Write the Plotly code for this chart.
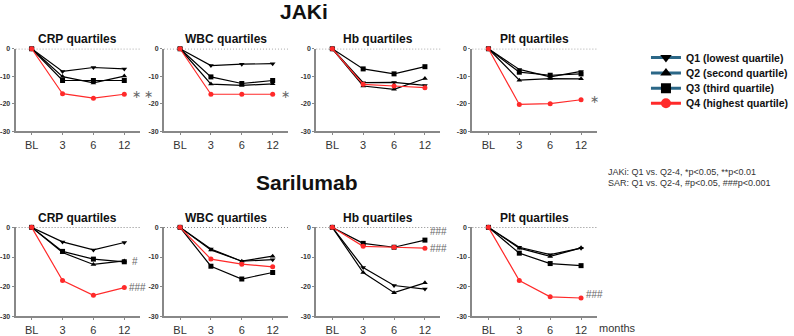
import plotly.graph_objects as go

# ---------------- data ----------------
timepoints = ["BL", "3", "6", "12"]
panel_titles = ["CRP quartiles", "WBC quartiles", "Hb quartiles", "Plt quartiles"]
quartile_names = ["Q1 (lowest quartile)", "Q2 (second quartile)",
                  "Q3 (third quartile)", "Q4 (highest quartile)"]

# JAKi (top row)
jaki_crp_q1 = [0, -8.2, -6.8, -7.3]
jaki_crp_q2 = [0, -10.1, -12.4, -9.9]
jaki_crp_q3 = [0, -11.5, -11.5, -11.5]
jaki_crp_q4 = [0, -16.3, -17.9, -16.5]

jaki_wbc_q1 = [0, -6.1, -5.6, -5.4]
jaki_wbc_q2 = [0, -12.8, -13.3, -12.7]
jaki_wbc_q3 = [0, -10.2, -12.6, -11.5]
jaki_wbc_q4 = [0, -16.5, -16.5, -16.5]

jaki_hb_q1 = [0, -12.3, -12.2, -13.3]
jaki_hb_q2 = [0, -13.5, -14.7, -10.8]
jaki_hb_q3 = [0, -7.3, -9.1, -6.5]
jaki_hb_q4 = [0, -12.9, -13.5, -14.1]

jaki_plt_q1 = [0, -7.5, -10.2, -8.2]
jaki_plt_q2 = [0, -11.4, -10.8, -10.9]
jaki_plt_q3 = [0, -8.5, -9.6, -9.1]
jaki_plt_q4 = [0, -20.2, -19.9, -18.5]

# Sarilumab (bottom row)
sar_crp_q1 = [0, -4.9, -7.6, -5.1]
sar_crp_q2 = [0, -8.5, -12.5, -11.3]
sar_crp_q3 = [0, -8.1, -10.7, -11.6]
sar_crp_q4 = [0, -17.9, -22.9, -20.3]

sar_wbc_q1 = [0, -7.3, -11.4, -10.9]
sar_wbc_q2 = [0, -7.6, -11.4, -9.7]
sar_wbc_q3 = [0, -13.1, -17.4, -15.2]
sar_wbc_q4 = [0, -10.7, -12.4, -13.3]

sar_hb_q1 = [0, -13.5, -19.6, -20.8]
sar_hb_q2 = [0, -15.2, -22.0, -18.7]
sar_hb_q3 = [0, -5.4, -6.7, -4.3]
sar_hb_q4 = [0, -6.4, -6.7, -7.0]

sar_plt_q1 = [0, -6.7, -9.2, -7.0]
sar_plt_q2 = [0, -7.0, -9.8, -6.9]
sar_plt_q3 = [0, -8.7, -12.2, -12.9]
sar_plt_q4 = [0, -17.9, -23.4, -23.8]

y_ticks = [0, -10, -20, -30]

# significance labels: (row, col, text, x, y)
sig_labels = [
    (1, 1, "∗ ∗", 3.2, -16.4),
    (1, 2, "∗", 3.22, -16.4),
    (1, 4, "∗", 3.22, -18.3),
    (2, 1, "#", 3.2, -11.4),
    (2, 1, "###", 3.1, -20.3),
    (2, 3, "###", 3.1, -1.5),
    (2, 3, "###", 3.1, -7.0),
    (2, 4, "###", 3.1, -22.5),
]

rows = [
    [[jaki_crp_q1, jaki_crp_q2, jaki_crp_q3, jaki_crp_q4],
     [jaki_wbc_q1, jaki_wbc_q2, jaki_wbc_q3, jaki_wbc_q4],
     [jaki_hb_q1, jaki_hb_q2, jaki_hb_q3, jaki_hb_q4],
     [jaki_plt_q1, jaki_plt_q2, jaki_plt_q3, jaki_plt_q4]],
    [[sar_crp_q1, sar_crp_q2, sar_crp_q3, sar_crp_q4],
     [sar_wbc_q1, sar_wbc_q2, sar_wbc_q3, sar_wbc_q4],
     [sar_hb_q1, sar_hb_q2, sar_hb_q3, sar_hb_q4],
     [sar_plt_q1, sar_plt_q2, sar_plt_q3, sar_plt_q4]],
]

# ---------------- layout geometry ----------------
W, H = 794, 336
col_left_px = [13, 166, 323, 484]
col_w_px = 128
row_top_px = [46, 229.5]
row_bot_px = [131, 321]
legend_rows_px = [55, 71, 86.5, 102]

symbols = ["triangle-down", "triangle-up", "square", "circle"]
colors = ["black", "black", "black", "#ff2a2a"]
FONT = "Liberation Sans, Arial, sans-serif"

fig = go.Figure()
layout = dict(
    width=W, height=H, margin=dict(l=0, r=0, t=0, b=0),
    paper_bgcolor="white", plot_bgcolor="white",
    font=dict(family=FONT, color="#222"),
    showlegend=True,
)
annotations = []
shapes = []

xi = 0
xvals = list(range(len(timepoints)))
for r in range(2):
    for c in range(4):
        xi += 1
        xa = "x" if xi == 1 else f"x{xi}"
        ya = "y" if xi == 1 else f"y{xi}"
        xd = [col_left_px[c] / W, (col_left_px[c] + col_w_px) / W]
        yd = [1 - row_bot_px[r] / H, 1 - row_top_px[r] / H]
        shapes.append(dict(type="line", xref=f"{xa} domain", yref=ya,
                           x0=0, x1=1, y0=0, y1=0,
                           line=dict(color="#444", width=1, dash="1px,2px"),
                           layer="below"))
        for q in range(4):
            fig.add_trace(go.Scatter(
                x=xvals, y=rows[r][c][q], xaxis=xa, yaxis=ya,
                mode="lines+markers", showlegend=False, cliponaxis=False,
                line=dict(color=colors[q], width=1.2),
                marker=dict(symbol=symbols[q], size=5, color=colors[q]),
            ))
        layout["xaxis" if xi == 1 else f"xaxis{xi}"] = dict(
            domain=xd, anchor=ya, range=[-0.52, 3.5],
            tickvals=xvals, ticktext=timepoints,
            showline=True, linecolor="#888", linewidth=2,
            ticks="outside", ticklen=2, tickcolor="#888",
            showgrid=False, zeroline=False,
            tickfont=dict(size=11, color="#333", family=FONT),
        )
        layout["yaxis" if xi == 1 else f"yaxis{xi}"] = dict(
            domain=yd, anchor=xa, range=[-30, 0],
            tickvals=y_ticks, ticktext=[f"<b>{v}</b>" for v in y_ticks],
            showline=True, linecolor="#888", linewidth=2,
            ticks="outside", ticklen=2, tickcolor="#888",
            showgrid=False, zeroline=False,
            tickfont=dict(size=7, color="#333", family=FONT),
        )
        annotations.append(dict(
            text=f"<b>{panel_titles[c]}</b>", xref=f"{xa} domain", x=0.5,
            yref="paper", y=1 - (row_top_px[r] - 10) / H, yanchor="middle",
            showarrow=False, font=dict(size=12, color="#111", family=FONT)))

for (r, c, txt, x, y) in sig_labels:
    idx = r * 4 - 4 + c
    xa = "x" if idx == 1 else f"x{idx}"
    ya = "y" if idx == 1 else f"y{idx}"
    annotations.append(dict(text=txt, xref=xa, yref=ya, x=x, y=y,
                            xanchor="left", yanchor="middle", showarrow=False,
                            font=dict(size=11 if "∗" in txt else 10,
                                      color="#666", family=FONT)))

annotations.append(dict(text="<b>JAKi</b>", xref="paper", yref="paper",
                        x=310 / W, y=1 - 8 / H, xanchor="center", yanchor="middle",
                        showarrow=False, font=dict(size=21, color="#111", family=FONT)))
annotations.append(dict(text="<b>Sarilumab</b>", xref="paper", yref="paper",
                        x=313 / W, y=1 - 183 / H, xanchor="center", yanchor="middle",
                        showarrow=False, font=dict(size=21, color="#111", family=FONT)))
annotations.append(dict(text="JAKi: Q1 vs. Q2-4, *p&lt;0.05, **p&lt;0.01",
                        xref="paper", yref="paper", x=622 / W, y=1 - 173 / H,
                        xanchor="left", yanchor="middle", showarrow=False,
                        font=dict(size=9, color="#333", family=FONT)))
annotations.append(dict(text="SAR: Q1 vs. Q2-4, #p&lt;0.05, ###p&lt;0.001",
                        xref="paper", yref="paper", x=622 / W, y=1 - 184 / H,
                        xanchor="left", yanchor="middle", showarrow=False,
                        font=dict(size=9, color="#333", family=FONT)))
annotations.append(dict(text="months", xref="paper", yref="paper",
                        x=612 / W, y=1 - 333 / H, xanchor="left", yanchor="middle",
                        showarrow=False, font=dict(size=11, color="#333", family=FONT)))

# legend entries, each in its own legend box for tight spacing
leg_line = ["#2b6787", "#2b6787", "#2b6787", "#ff2a2a"]
leg_marker = ["black", "black", "black", "#ff2a2a"]
for q in range(4):
    lname = "legend" if q == 0 else f"legend{q + 1}"
    fig.add_trace(go.Scatter(
        x=[None], y=[None], mode="lines+markers", name=f"<b>{quartile_names[q]}</b>",
        line=dict(color=leg_line[q], width=3),
        marker=dict(symbol=symbols[q], size=10, color=leg_marker[q]),
        showlegend=True, legend=lname,
    ))
    layout[lname] = dict(x=663 / W, y=1 - legend_rows_px[q] / H,
                         xanchor="left", yanchor="middle",
                         font=dict(size=10.5, color="#111", family=FONT),
                         itemwidth=30, bgcolor="rgba(0,0,0,0)")

layout["annotations"] = annotations
layout["shapes"] = shapes
fig.update_layout(**layout)

fig.write_html("out.html")
